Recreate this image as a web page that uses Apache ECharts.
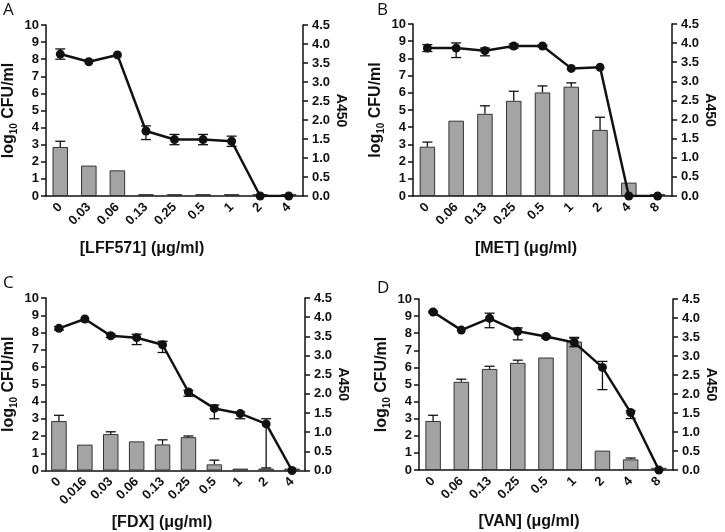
<!DOCTYPE html>
<html><head><meta charset="utf-8">
<script src="https://cdn.jsdelivr.net/npm/echarts@6/dist/echarts.min.js"></script>
<style>html,body{margin:0;padding:0;background:#fff}#c{width:725px;height:532px}</style>
</head><body><div id="c"></div>
<script>
// ---- Data ----
const catsA = ['0','0.03','0.06','0.13','0.25','0.5','1','2','4'];
const cfuA = [8.3, 7.85, 8.25, 3.8, 3.3, 3.3, 3.2, 0, 0];
const cfuLoA = [0.3, 0, 0, 0.5, 0.3, 0.3, 0.3, 0, 0];
const cfuHiA = [0.3, 0, 0, 0.3, 0.3, 0.3, 0.3, 0, 0];
const a450A = [1.29, 0.80, 0.675, 0.05, 0.05, 0.05, 0.05, 0.05, 0.05];
const a450ErrA = [0.15, 0.01, 0.01, 0, 0, 0, 0, 0, 0];

const catsB = ['0','0.06','0.13','0.25','0.5','1','2','4','8'];
const cfuB = [8.6, 8.6, 8.45, 8.72, 8.72, 7.42, 7.48, 0, 0];
const cfuLoB = [0.2, 0.55, 0.3, 0.12, 0.05, 0, 0, 0, 0];
const cfuHiB = [0.2, 0.3, 0.15, 0.12, 0.05, 0, 0, 0, 0];
const a450B = [1.29, 1.97, 2.15, 2.49, 2.71, 2.86, 1.73, 0.35, 0.05];
const a450ErrB = [0.12, 0.01, 0.21, 0.25, 0.17, 0.1, 0.33, 0, 0];

const catsC = ['0','0.016','0.03','0.06','0.13','0.25','0.5','1','2','4'];
const cfuC = [8.24, 8.78, 7.81, 7.7, 7.29, 4.55, 3.6, 3.3, 2.7, 0];
const cfuLoC = [0.1, 0, 0.1, 0.4, 0.45, 0.25, 0.6, 0.3, 2.55, 0];
const cfuHiC = [0.1, 0, 0.1, 0.2, 0.2, 0.1, 0.2, 0.1, 0.3, 0];
const a450C = [1.29, 0.675, 0.95, 0.76, 0.68, 0.87, 0.16, 0.05, 0.05, 0.05];
const a450ErrC = [0.15, 0.01, 0.06, 0.01, 0.12, 0.03, 0.11, 0, 0, 0];

const catsD = ['0','0.06','0.13','0.25','0.5','1','2','4','8'];
const cfuD = [9.24, 8.18, 8.87, 8.11, 7.81, 7.46, 6.0, 3.36, 0];
const cfuLoD = [0.05, 0, 0.55, 0.5, 0.1, 0.25, 1.3, 0.35, 0];
const cfuHiD = [0.05, 0, 0.3, 0.2, 0.05, 0.25, 0.35, 0.1, 0];
const a450D = [1.29, 2.32, 2.66, 2.82, 2.96, 3.38, 0.51, 0.28, 0.06];
const a450ErrD = [0.15, 0.07, 0.07, 0.07, 0.01, 0.11, 0.01, 0.035, 0];

const drugs = ['[LFF571] (\u03bcg/ml)', '[MET] (\u03bcg/ml)', '[FDX] (\u03bcg/ml)', '[VAN] (\u03bcg/ml)'];
const letters = ['A', 'B', 'C', 'D'];
const leftTicks = {min: 0, max: 10, interval: 1};
const rightTicks = {min: 0, max: 4.5, interval: 0.5};

// ---- Layout ----
const panels = [
  {cats: catsA, cfu: cfuA, lo: cfuLoA, hi: cfuHiA, a: a450A, ae: a450ErrA, grid: {left: 46, top: 25, width: 257, height: 171}, title: [142, 249], letter: [3, 2]},
  {cats: catsB, cfu: cfuB, lo: cfuLoB, hi: cfuHiB, a: a450B, ae: a450ErrB, grid: {left: 413, top: 24, width: 259, height: 172}, title: [526, 249], letter: [377, 2]},
  {cats: catsC, cfu: cfuC, lo: cfuLoC, hi: cfuHiC, a: a450C, ae: a450ErrC, grid: {left: 45, top: 298, width: 260, height: 172.5}, title: [162, 523], letter: [3, 275]},
  {cats: catsD, cfu: cfuD, lo: cfuLoD, hi: cfuHiD, a: a450D, ae: a450ErrD, grid: {left: 419, top: 299, width: 254, height: 171}, title: [529, 522], letter: [377, 280]}
];

const FONT = 'Liberation Sans';
const axisLineStyle = {color: '#111', width: 1.5};

function errRender(capHalf, upperOnly) {
  return function (params, api) {
    const x = api.value(0), lo = api.value(1), hi = api.value(2);
    const p1 = api.coord([x, lo]), p2 = api.coord([x, hi]);
    if (Math.abs(p1[1] - p2[1]) < 0.5) return null;
    const st = {stroke: '#111', lineWidth: 1.3};
    const ch = [
      {type: 'line', shape: {x1: p1[0], y1: p1[1], x2: p2[0], y2: p2[1]}, style: st},
      {type: 'line', shape: {x1: p2[0] - capHalf, y1: p2[1], x2: p2[0] + capHalf, y2: p2[1]}, style: st}
    ];
    if (!upperOnly) ch.push({type: 'line', shape: {x1: p1[0] - capHalf, y1: p1[1], x2: p1[0] + capHalf, y2: p1[1]}, style: st});
    return {type: 'group', children: ch};
  };
}

const grids = [], xAxes = [], yAxes = [], series = [], graphics = [];
panels.forEach((p, i) => {
  grids.push(Object.assign({containLabel: false}, p.grid));
  xAxes.push({
    type: 'category', gridIndex: i, data: p.cats,
    axisLine: {lineStyle: axisLineStyle},
    axisTick: {alignWithLabel: true, length: 5, lineStyle: {color: '#111', width: 1.5}},
    axisLabel: {rotate: 45, margin: 9, fontFamily: FONT, fontWeight: 'bold', fontSize: 13, color: '#111'},
    splitLine: {show: false}
  });
  yAxes.push({
    type: 'value', gridIndex: i, position: 'left', min: leftTicks.min, max: leftTicks.max, interval: leftTicks.interval,
    name: '{n|log}{s|10}{n| CFU/ml}', nameLocation: 'middle', nameRotate: 90, nameGap: 27,
    nameTextStyle: {rich: {
      n: {fontFamily: FONT, fontWeight: 'bold', fontSize: 16, color: '#111', lineHeight: 20},
      s: {fontFamily: FONT, fontWeight: 'bold', fontSize: 10, color: '#111', verticalAlign: 'bottom', lineHeight: 10}
    }},
    axisLine: {show: true, lineStyle: axisLineStyle},
    axisTick: {show: true, length: 5, lineStyle: {color: '#111', width: 1.5}},
    axisLabel: {margin: 7, fontFamily: FONT, fontWeight: 'bold', fontSize: 13, color: '#111'},
    splitLine: {show: false}
  });
  yAxes.push({
    type: 'value', gridIndex: i, position: 'right', min: rightTicks.min, max: rightTicks.max, interval: rightTicks.interval,
    alignTicks: false,
    name: 'A450', nameLocation: 'middle', nameRotate: -90, nameGap: 30,
    nameTextStyle: {fontFamily: FONT, fontWeight: 'bold', fontSize: 14, color: '#111'},
    axisLine: {show: true, lineStyle: axisLineStyle},
    axisTick: {show: true, length: 5, lineStyle: {color: '#111', width: 1.5}},
    axisLabel: {margin: 9, fontFamily: FONT, fontWeight: 'bold', fontSize: 13, color: '#111', formatter: v => v.toFixed(1)},
    splitLine: {show: false}
  });
  const yl = 2 * i, yr = 2 * i + 1;
  series.push({
    type: 'bar', xAxisIndex: i, yAxisIndex: yr, data: p.a, barWidth: 15.5, z: 2,
    itemStyle: {color: '#a4a4a4', borderColor: '#333', borderWidth: 1}
  });
  series.push({
    type: 'custom', xAxisIndex: i, yAxisIndex: yr, z: 3,
    renderItem: errRender(5, true),
    encode: {x: 0, y: [1, 2]},
    data: p.a.map((v, k) => [k, v, v + p.ae[k]])
  });
  series.push({
    type: 'custom', xAxisIndex: i, yAxisIndex: yl, z: 4,
    renderItem: errRender(5, false),
    encode: {x: 0, y: [1, 2]},
    data: p.cfu.map((v, k) => [k, v - p.lo[k], v + p.hi[k]])
  });
  series.push({
    type: 'line', xAxisIndex: i, yAxisIndex: yl, data: p.cfu, z: 5,
    symbol: 'circle', symbolSize: 9, showAllSymbol: true,
    lineStyle: {color: '#111', width: 2.5}, itemStyle: {color: '#111'}
  });
  graphics.push({type: 'text', x: p.title[0], y: p.title[1], style: {text: drugs[i], fontFamily: FONT, fontWeight: 'bold', fontSize: 16, fill: '#111', textAlign: 'center', textVerticalAlign: 'middle'}});
  graphics.push({type: 'text', x: p.letter[0], y: p.letter[1], style: {text: letters[i], fontFamily: 'Open Sans', fontSize: 17, fill: '#111'}});
});

const chart = echarts.init(document.getElementById('c'), null, {renderer: 'canvas'});
chart.setOption({
  animation: false,
  backgroundColor: '#fff',
  grid: grids, xAxis: xAxes, yAxis: yAxes, series: series,
  graphic: graphics
});
</script>
</body></html>
